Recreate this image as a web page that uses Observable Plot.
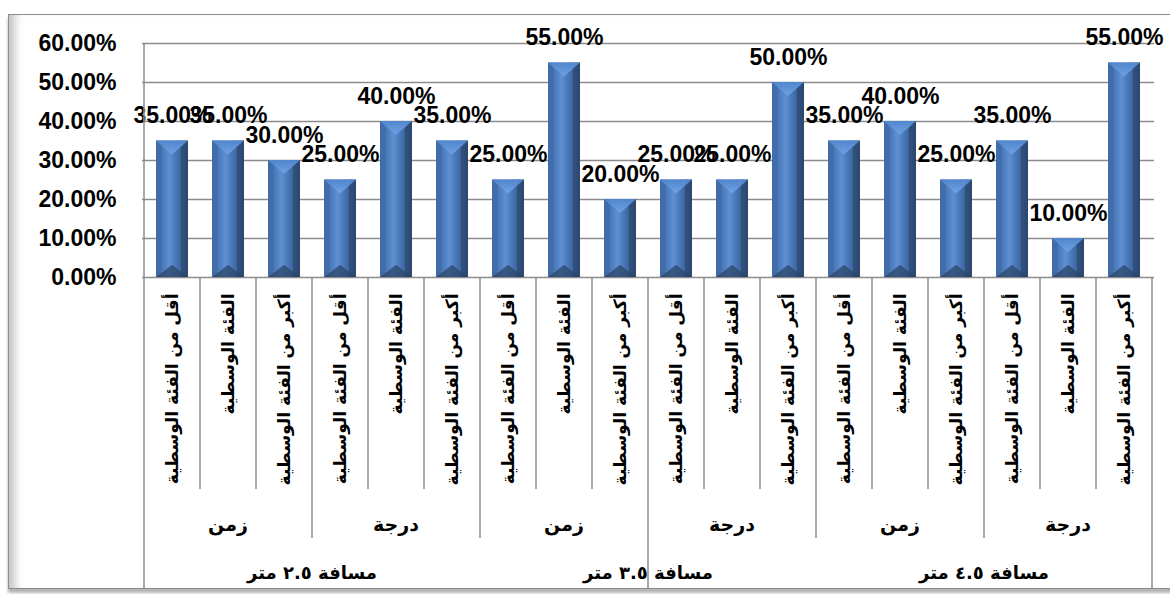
<!DOCTYPE html>
<html>
<head>
<meta charset="utf-8">
<script src="https://cdn.jsdelivr.net/npm/d3@7"></script>
<script src="https://cdn.jsdelivr.net/npm/@observablehq/plot@0.6"></script>
<style>
html, body { margin: 0; padding: 0; background: #ffffff; width: 1170px; height: 594px; overflow: hidden; }
#frame { position: absolute; left: 8px; top: 14px; width: 1180px; height: 573px; border: 1.5px solid #8c8c8c;
  box-shadow: inset 12px 0 8px -6px #c4c4c4, 0 4px 3px #b4b4b4; }
#chart { position: absolute; left: 0; top: 0; }
</style>
</head>
<body>
<svg width="0" height="0" style="position:absolute">
  <defs>
    <linearGradient id="bevelGrad" x1="0" y1="0" x2="1" y2="0">
      <stop offset="0" stop-color="#3f6ca8"/>
      <stop offset="0.17" stop-color="#426fab"/>
      <stop offset="0.19" stop-color="#4978b7"/>
      <stop offset="0.42" stop-color="#5e90d3"/>
      <stop offset="0.58" stop-color="#4b7cbc"/>
      <stop offset="0.76" stop-color="#3e69a1"/>
      <stop offset="0.78" stop-color="#31517f"/>
      <stop offset="1" stop-color="#2b4771"/>
    </linearGradient>
    <linearGradient id="topGrad" x1="0" y1="0" x2="0" y2="1">
      <stop offset="0" stop-color="#5186cc"/>
      <stop offset="1" stop-color="#6fa2e4"/>
    </linearGradient>
  </defs>
</svg>
<div id="frame"></div>
<div id="chart"></div>
<script>
// ---- data ----
const distances = ["مسافة ٢.٥ متر", "مسافة ٣.٥ متر", "مسافة ٤.٥ متر"];
const measures = ["زمن", "درجة"];
const levels = ["أقل من الفئة الوسطية", "الفئة الوسطية", "أكبر من الفئة الوسطية"];
const dist25 = [0.35, 0.35, 0.30, 0.25, 0.40, 0.35];
const dist35 = [0.25, 0.55, 0.20, 0.25, 0.25, 0.50];
const dist45 = [0.35, 0.40, 0.25, 0.35, 0.10, 0.55];
const yTicks = [0, 0.1, 0.2, 0.3, 0.4, 0.5, 0.6];

const seriesValues = [dist25, dist35, dist45];
const rows = [];
distances.forEach((dist, g) => {
  measures.forEach((m, mi) => {
    levels.forEach((lev, li) => {
      rows.push({key: `${g}-${mi}-${li}`, g, mi, li, dist, measure: m, level: lev, value: seriesValues[g][mi * 3 + li]});
    });
  });
});
const keys = rows.map(d => d.key);
const pct = d3.format(".2%");
const FONT_LAT = "'Liberation Sans', Arial, sans-serif";
const FONT_AR = "'DejaVu Sans', sans-serif";
const GRID = "#8c8c8c";

function bw(s) { return typeof s.bandwidth === "function" ? s.bandwidth() : s.bandwidth; }

// bevel overlay for each bar
function bevel(index, scales) {
  const sx = scales.x, sy = scales.y, w = bw(sx);
  const g = d3.create("svg:g");
  for (const d of rows) {
    const x0 = sx(d.key), x1 = x0 + w, cx = x0 + w / 2;
    const yt = sy(d.value), yb = sy(0);
    const h = yb - yt;
    g.append("polygon")
      .attr("points", `${x0},${yt} ${x1},${yt} ${cx},${yt + Math.min(14, h / 2)}`)
      .attr("fill", "url(#topGrad)");
    g.append("polygon")
      .attr("points", `${x0},${yb} ${x1},${yb} ${cx},${yb - Math.min(12, h / 2)}`)
      .attr("fill", "#2c4569").attr("fill-opacity", 0.75);
  }
  return g.node();
}

// multi-level category table
function table(index, scales) {
  const sx = scales.x, sy = scales.y, w = bw(sx);
  const step = sx(keys[1]) - sx(keys[0]);
  const gap = step - w;
  const bounds = keys.map(k => sx(k) - gap / 2);
  bounds.push(sx(keys[keys.length - 1]) + w + gap / 2);
  const y0 = sy(0);
  const g = d3.create("svg:g");
  bounds.forEach((xb, i) => {
    const yEnd = i % 9 === 0 ? 588 : (i % 3 === 0 ? 538 : 489);
    const yStart = i === 0 ? sy(0.6) : y0;
    g.append("line").attr("x1", xb).attr("x2", xb).attr("y1", yStart).attr("y2", yEnd)
      .attr("stroke", GRID).attr("stroke-width", 1.5);
  });
  distances.forEach((dist, gi) => {
    measures.forEach((m, mi) => {
      const a = bounds[gi * 6 + mi * 3], b = bounds[gi * 6 + mi * 3 + 3];
      g.append("text").attr("x", (a + b) / 2).attr("y", 524)
        .attr("text-anchor", "middle").attr("dominant-baseline", "central")
        .attr("font-family", FONT_AR).attr("font-weight", "bold").attr("font-size", 19)
        .attr("fill", "#000").text(m);
    });
    g.append("text").attr("x", (bounds[gi * 6] + bounds[gi * 6 + 6]) / 2).attr("y", 572)
      .attr("text-anchor", "middle").attr("dominant-baseline", "central")
      .attr("font-family", FONT_AR).attr("font-weight", "bold").attr("font-size", 18)
      .attr("fill", "#000").text(dist);
  });
  return g.node();
}

const chart = Plot.plot({
  width: 1170,
  height: 594,
  marginLeft: 142,
  marginRight: 16,
  marginTop: 43,
  marginBottom: 317,
  style: {background: "transparent", overflow: "visible"},
  x: {domain: keys, paddingInner: 0.43, paddingOuter: 0.215, axis: null},
  y: {domain: [0, 0.6], axis: null},
  marks: [
    Plot.ruleY(yTicks, {stroke: GRID, strokeWidth: 1.5, strokeOpacity: 1}),
    Plot.axisY({ticks: yTicks, tickFormat: pct, tickSize: 0, tickPadding: 26, label: null,
      fontSize: 23, fontWeight: "bold", fontFamily: FONT_LAT, fill: "#000"}),
    Plot.barY(rows, {x: "key", y: "value", fill: "url(#bevelGrad)"}),
    bevel,
    Plot.text(rows, {x: "key", y: "value", text: d => pct(d.value), dy: -25,
      fontSize: 23, fontWeight: "bold", fontFamily: FONT_LAT, fill: "#000"}),
    Plot.text(rows, {x: "key", y: () => 0, text: "level", rotate: -90, textAnchor: "end",
      dy: 16, fontSize: 17, fontWeight: "bold", fontFamily: FONT_AR, fill: "#000"}),
    table
  ]
});
document.getElementById("chart").appendChild(chart);
</script>
</body>
</html>
